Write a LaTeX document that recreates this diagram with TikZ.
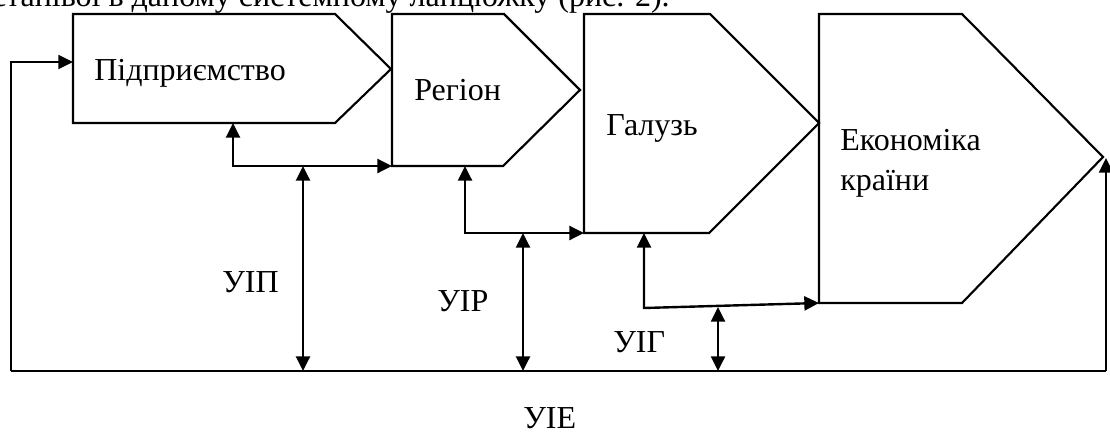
\documentclass[tikz,border=0pt]{standalone}
\usepackage{fontspec}
\setmainfont{Liberation Serif}
\usetikzlibrary{arrows.meta}
\begin{document}
\begin{tikzpicture}[x=0.75pt,y=-0.75pt,
  boxline/.style={line width=1.6pt,line join=miter},
  conn/.style={line width=1.8pt},
  lbl/.style={anchor=base west,inner sep=0pt,font=\fontsize{24}{28}\selectfont},
  >={Triangle[length=11pt,width=10.5pt]}]
\useasboundingbox (0,0) rectangle (1110,432);
\begin{scope}
\clip (0,0) rectangle (1110,432);
\node[anchor=base east,inner sep=0pt,font=\fontsize{24}{28}\selectfont] (top) at (670,7) {станівої в даному системному ланцюжку (рис. 2).};
\end{scope}
% boxes
\draw[boxline] (73,14) -- (335,14) -- (391,69) -- (335,123) -- (73,123) -- cycle;
\draw[boxline] (392,14) -- (504,14) -- (580,90) -- (503,166) -- (392,166) -- cycle;
\draw[boxline] (584,14) -- (710,14) -- (819,123) -- (709,233) -- (584,233) -- cycle;
\draw[boxline] (819,14) -- (962,14) -- (1103,157) -- (962,303) -- (819,303) -- cycle;
% labels
\node[lbl] (t1) at (94,80) {Підприємство};
\node[lbl] (t2) at (414,100) {Регіон};
\node[lbl] (t3) at (606,135) {Галузь};
\node[lbl] (t4) at (840,150) {Економіка};
\node[lbl] (t4b) at (840,190) {країни};
\node[lbl] (uip) at (222,292) {УІП};
\node[lbl] (uir) at (437,311) {УІР};
\node[lbl] (uig) at (613,352) {УІГ};
\node[lbl] (uie) at (523,428) {УІЕ};
% coordinates
\coordinate (b1in) at (73,62);
\coordinate (b1bot) at (233,123);
\coordinate (b2in) at (392,166);
\coordinate (b2bot) at (465,166);
\coordinate (b3in) at (584,233);
\coordinate (b3bot) at (644,233);
\coordinate (b4in) at (819,303);
\coordinate (b4tip) at (1106,158);
\coordinate (bl) at (11,371);
\coordinate (br) at (1106,371);
\coordinate (lt) at (11,62);
\coordinate (f1) at (233,166);
\coordinate (f2) at (465,233);
\coordinate (f3) at (644,308);
\coordinate (u1t) at (303,166);
\coordinate (u1b) at (303,371);
\coordinate (u2t) at (523,233);
\coordinate (u2b) at (523,371);
\coordinate (u3t) at (718,307);
\coordinate (u3b) at (718,371);
% connectors
\draw[line width=2pt] (bl) -- (br);
\draw[conn,->] (br) -- (b4tip);
\draw[line width=1.2pt,->] (bl) -- (lt) -- (b1in);
\draw[conn,<->] (b1bot) -- (f1) -- (b2in);
\draw[conn,<->] (b2bot) -- (f2) -- (b3in);
\draw[conn,<->] (b3bot) -- (f3) -- (b4in);
\draw[conn,<->] (u1t) -- (u1b);
\draw[conn,<->] (u2t) -- (u2b);
\draw[conn,<->] (u3t) -- (u3b);
\end{tikzpicture}
\end{document}
